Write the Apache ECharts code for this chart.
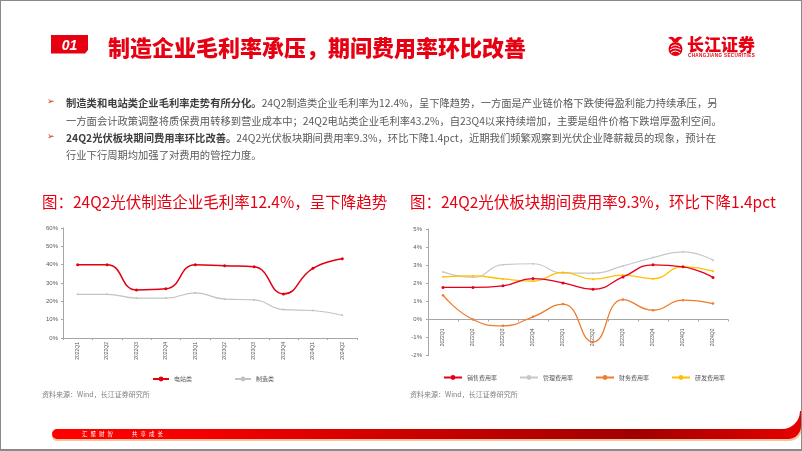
<!DOCTYPE html>
<html>
<head>
<meta charset="utf-8">
<script src="https://cdn.jsdelivr.net/npm/echarts@6/dist/echarts.min.js"></script>
<style>
  html,body{margin:0;padding:0;background:#fff;}
  #page{position:relative;width:802px;height:451px;overflow:hidden;background:#fff;font-family:"Noto Sans CJK SC","Noto Sans",sans-serif;}
  #frame{position:absolute;left:0;top:0;width:802px;height:451px;box-sizing:border-box;border:1px solid #8a8a8a;border-bottom:2px solid #8a8a8a;z-index:5;pointer-events:none;}
  #chart{position:absolute;left:0;top:0;width:802px;height:451px;z-index:1;}
  .t{position:absolute;white-space:nowrap;z-index:3;}
  .body{font-size:10.3px;color:#595959;line-height:14px;}
  .body b{color:#3f3f3f;font-weight:bold;}
  .bul{font-family:"DejaVu Sans";color:#d03000;font-size:9px;}
  .ctitle{font-size:15.5px;color:#e60012;line-height:18px;}
  .src{font-size:7px;color:#7f7f7f;line-height:9px;}
</style>
</head>
<body>
<div id="page">
  <div id="chart"></div>
  <svg class="t" style="left:0;top:0;" width="802" height="451">
    <polygon points="51,35 88,35 88,50 85,53.5 51,53.5" fill="#e60012"/>
    <text x="69.5" y="49.5" fill="#fff" font-size="14" font-weight="bold" font-style="italic" text-anchor="middle" font-family="Liberation Sans">01</text>
    <circle cx="675.5" cy="49" r="7" fill="#e60012"/>
    <path d="M671,47 Q675,43 680,47 M670,50 Q675,46 681,50 M671,53 Q675,49 680,53" stroke="#fff" stroke-width="1" fill="none"/>
    <path d="M668,38 Q672,35 675,39 Q678,35 683,38 Q679,39 678,42 L673,42 Q672,39 668,38 Z" fill="#e60012"/>
    <defs>
      <linearGradient id="fg" x1="0" y1="0" x2="1" y2="0">
        <stop offset="0" stop-color="#ff0000"/>
        <stop offset="0.2" stop-color="#f40000"/>
        <stop offset="0.78" stop-color="#a00000"/>
        <stop offset="1" stop-color="#e60000"/>
      </linearGradient>
    </defs>
    <path d="M57,430.5 L782,430.5 A18,18 0 0 0 800,412.5 L802,412.5 L802,428 A13,13 0 0 1 789,441 L57,441 A5,5 0 0 1 57,430.5 Z" fill="#f7c39a"/>
    <path d="M57,429 L782,429 A18,18 0 0 0 800,411 L801,411 L801,426 A13,13 0 0 1 788,439 L57,439 A5,5 0 0 1 57,429 Z" fill="url(#fg)"/>
    <text x="82" y="436" fill="#fff" font-size="5.5" letter-spacing="3" font-family="Noto Sans CJK SC">汇聚财智</text>
    <text x="132" y="436" fill="#fff" font-size="5.5" letter-spacing="3" font-family="Noto Sans CJK SC">共享成长</text>
  </svg>

  <div class="t" style="left:108px;top:32px;font-size:22px;line-height:28px;color:#e60012;font-weight:900;">制造企业毛利率承压，期间费用率环比改善</div>
  <div class="t" style="left:687px;top:35px;font-size:17px;line-height:18px;color:#e60012;font-weight:900;">长江证券</div>
  <div class="t" style="left:688px;top:53px;font-size:4.6px;line-height:5px;color:#e60012;font-weight:bold;font-family:'Liberation Sans';letter-spacing:0.35px;">CHANGJIANG SECURITIES</div>

  <div class="t bul" style="left:47px;top:96px;">➢</div>
  <div class="t body" style="left:66px;top:96px;"><b>制造类和电站类企业毛利率走势有所分化。</b>24Q2制造类企业毛利率为12.4%，呈下降趋势，一方面是产业链价格下跌使得盈利能力持续承压，另</div>
  <div class="t body" style="left:66px;top:114px;">一方面会计政策调整将质保费用转移到营业成本中；24Q2电站类企业毛利率43.2%，自23Q4以来持续增加，主要是组件价格下跌增厚盈利空间。</div>
  <div class="t bul" style="left:47px;top:131px;">➢</div>
  <div class="t body" style="left:66px;top:131px;"><b>24Q2光伏板块期间费用率环比改善。</b>24Q2光伏板块期间费用率9.3%，环比下降1.4pct，近期我们频繁观察到光伏企业降薪裁员的现象，预计在</div>
  <div class="t body" style="left:66px;top:148px;">行业下行周期均加强了对费用的管控力度。</div>

  <div class="t ctitle" style="left:42px;top:192px;">图：24Q2光伏制造企业毛利率12.4%，呈下降趋势</div>
  <div class="t ctitle" style="left:410px;top:192px;">图：24Q2光伏板块期间费用率9.3%，环比下降1.4pct</div>

  <div class="t src" style="left:42px;top:390px;">资料来源：Wind，长江证券研究所</div>
  <div class="t src" style="left:410px;top:390px;">资料来源：Wind，长江证券研究所</div>
  <div id="frame"></div>
</div>
<script>
var categories = ['2022Q1','2022Q2','2022Q3','2022Q4','2023Q1','2023Q2','2023Q3','2023Q4','2024Q1','2024Q2'];
// 左图：毛利率（%）
var dianzhanLei = [40.0, 40.0, 26.2, 26.8, 40.0, 39.4, 38.8, 24.0, 38.0, 43.2];
var zhizaoLei   = [23.8, 23.8, 21.8, 21.8, 24.6, 21.2, 20.8, 15.5, 15.0, 12.4];
// 右图：期间费用率（%）
var xiaoshou = [1.77, 1.77, 1.86, 2.26, 2.02, 1.67, 2.35, 3.02, 2.91, 2.32];
var guanli   = [2.63, 2.33, 3.03, 3.08, 2.56, 2.56, 2.96, 3.42, 3.74, 3.28];
var caiwu    = [1.34, 0.00, -0.35, 0.15, 0.85, -1.24, 1.10, 0.51, 1.07, 0.88];
var yanfa    = [2.36, 2.41, 2.24, 2.12, 2.60, 2.23, 2.45, 2.25, 2.91, 2.67];
var leftTicks = [0, 60, 10];
var rightTicks = [-2, 5, 1];

var axisColor = '#a6a6a6';
var labelColor = '#595959';
var rightGrid = {left:428, top:229, width:300, height:126.7};
// place the right x axis on the zero line (offset from grid bottom computed from the y scale)
var zeroOffset = -rightGrid.height * (0 - rightTicks[0]) / (rightTicks[1] - rightTicks[0]);

function xAx(gi, margin, offset){
  return {type:'category', gridIndex:gi, data:categories, boundaryGap:true, offset:offset,
    axisLine:{show:true, onZero:false, lineStyle:{color:axisColor, width:1}},
    axisTick:{show:true, length:2, lineStyle:{color:axisColor}},
    axisLabel:{rotate:90, fontSize:5, color:labelColor, margin:margin, interval:0, fontFamily:'Liberation Sans'},
    splitLine:{show:false}};
}
function yAx(gi, t, margin){
  return {type:'value', gridIndex:gi, min:t[0], max:t[1], interval:t[2],
    axisLine:{show:true, lineStyle:{color:axisColor, width:1}},
    axisTick:{show:true, length:2, lineStyle:{color:axisColor}},
    axisLabel:{formatter:'{value}%', fontSize:6, color:labelColor, margin:margin, fontFamily:'Liberation Sans'},
    splitLine:{show:false}};
}
function ser(name, data, color, xi, width, size){
  return {name:name, type:'line', xAxisIndex:xi, yAxisIndex:xi, data:data, smooth:0.5,
    symbol:'circle', symbolSize:size, showSymbol:true,
    lineStyle:{color:color, width:width}, itemStyle:{color:color}};
}
var chart = echarts.init(document.getElementById('chart'), null, {renderer:'canvas'});
chart.setOption({
  animation:false,
  textStyle:{fontFamily:'Noto Sans CJK SC'},
  grid:[{left:63, top:228, width:294, height:110}, rightGrid],
  xAxis:[xAx(0,4,0), xAx(1,9,zeroOffset)],
  yAxis:[yAx(0,leftTicks,5), yAx(1,rightTicks,6)],
  legend:[
    {data:['电站类','制造类'], left:147, top:371, itemWidth:16, itemHeight:6, itemGap:42,
     textStyle:{fontSize:6, color:labelColor}},
    {data:['销售费用率','管理费用率','财务费用率','研发费用率'], left:438, top:369.5, itemWidth:18, itemHeight:6, itemGap:22,
     textStyle:{fontSize:6, color:labelColor}}
  ],
  series:[
    ser('制造类', zhizaoLei, '#c3c3c3', 0, 1.2, 2),
    ser('电站类', dianzhanLei, '#e00012', 0, 1.5, 3),
    ser('管理费用率', guanli, '#c8c8c8', 1, 1.2, 2),
    ser('研发费用率', yanfa, '#ffc000', 1, 1.3, 2),
    ser('销售费用率', xiaoshou, '#e3001b', 1, 1.3, 3),
    ser('财务费用率', caiwu, '#ee7d31', 1, 1.3, 2.5)
  ]
});
</script>
</body>
</html>
